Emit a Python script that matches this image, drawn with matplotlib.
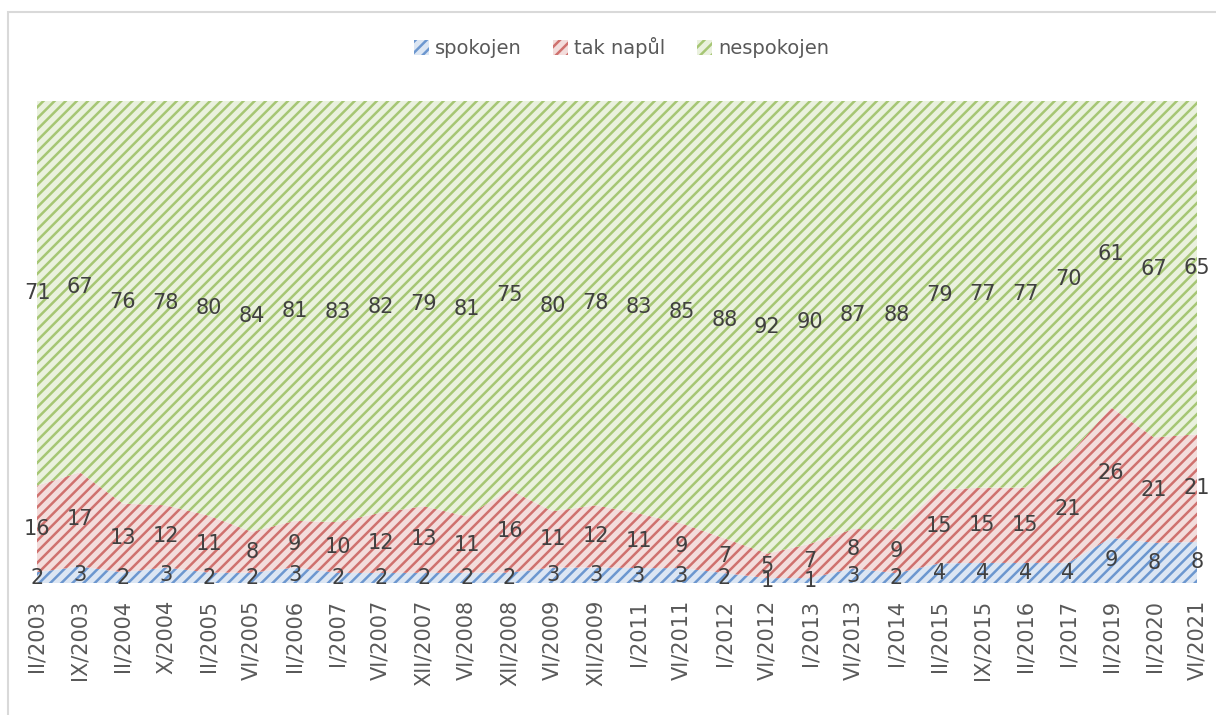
import numpy as np
import matplotlib
matplotlib.use("Agg")
import matplotlib.pyplot as plt
from matplotlib.patches import Patch, Rectangle

# Data
obdobi = ["II/2003", "IX/2003", "II/2004", "X/2004", "II/2005", "VI/2005",
          "II/2006", "I/2007", "VI/2007", "XII/2007", "VI/2008", "XII/2008",
          "VI/2009", "XII/2009", "I/2011", "VI/2011", "I/2012", "VI/2012",
          "I/2013", "VI/2013", "I/2014", "II/2015", "IX/2015", "II/2016",
          "I/2017", "II/2019", "II/2020", "VI/2021"]
spokojen = [2, 3, 2, 3, 2, 2, 3, 2, 2, 2, 2, 2, 3, 3, 3, 3, 2, 1, 1, 3, 2,
            4, 4, 4, 4, 9, 8, 8]
tak_napul = [16, 17, 13, 12, 11, 8, 9, 10, 12, 13, 11, 16, 11, 12, 11, 9, 7,
             5, 7, 8, 9, 15, 15, 15, 21, 26, 21, 21]
nespokojen = [71, 67, 76, 78, 80, 84, 81, 83, 82, 79, 81, 75, 80, 78, 83, 85,
              88, 92, 90, 87, 88, 79, 77, 77, 70, 61, 67, 65]

serie = [("spokojen", spokojen, "#DCE6F3", "#6C97CF"),
         ("tak napůl", tak_napul, "#F3DDDC", "#CF716E"),
         ("nespokojen", nespokojen, "#EAF1DE", "#A6C674")]

plt.rcParams["hatch.linewidth"] = 1.8
plt.rcParams["font.family"] = "DejaVu Sans"

fig = plt.figure(figsize=(12.16, 7.15), dpi=100)
ax = fig.add_axes([37 / 1216, 1 - 583 / 715, 1160 / 1216, 482 / 715])

# ram grafu
fig.patches.append(Rectangle((8 / 1216, -0.1), 1.2, 1 - 12 / 715 + 0.1,
                             transform=fig.transFigure, fill=False,
                             edgecolor="#D9D9D9", linewidth=1.5))

x = np.arange(len(obdobi))
celkem = np.array(spokojen) + np.array(tak_napul) + np.array(nespokojen)
dole = np.zeros(len(obdobi))
handles = []
for nazev, hodnoty, bg, fg in serie:
    podil = np.array(hodnoty) / celkem
    ax.fill_between(x, dole, dole + podil, facecolor=bg, edgecolor=fg,
                    linewidth=0, hatch="///")
    for i, v in enumerate(hodnoty):
        ax.text(x[i], dole[i] + podil[i] / 2, str(v), ha="center", va="center",
                fontsize=15, color="#404040")
    dole = dole + podil
    handles.append(Patch(facecolor=bg, edgecolor=fg, linewidth=0,
                         hatch="///", label=nazev))

ax.set_xlim(0, len(obdobi) - 1)
ax.set_ylim(0, 1)
ax.set_yticks([])
ax.set_xticks(x)
ax.set_xticklabels(obdobi, rotation=90, fontsize=15, color="#595959")
ax.tick_params(axis="x", length=0, pad=12)
for s in ax.spines.values():
    s.set_visible(False)

fig.legend(handles=handles, loc="center", bbox_to_anchor=(0.511, 0.933),
           ncol=3, frameon=False, fontsize=14, labelcolor="#595959",
           handlelength=0.8, handleheight=0.8, handletextpad=0.3,
           columnspacing=1.6)

fig.savefig("out.png", dpi=100)
